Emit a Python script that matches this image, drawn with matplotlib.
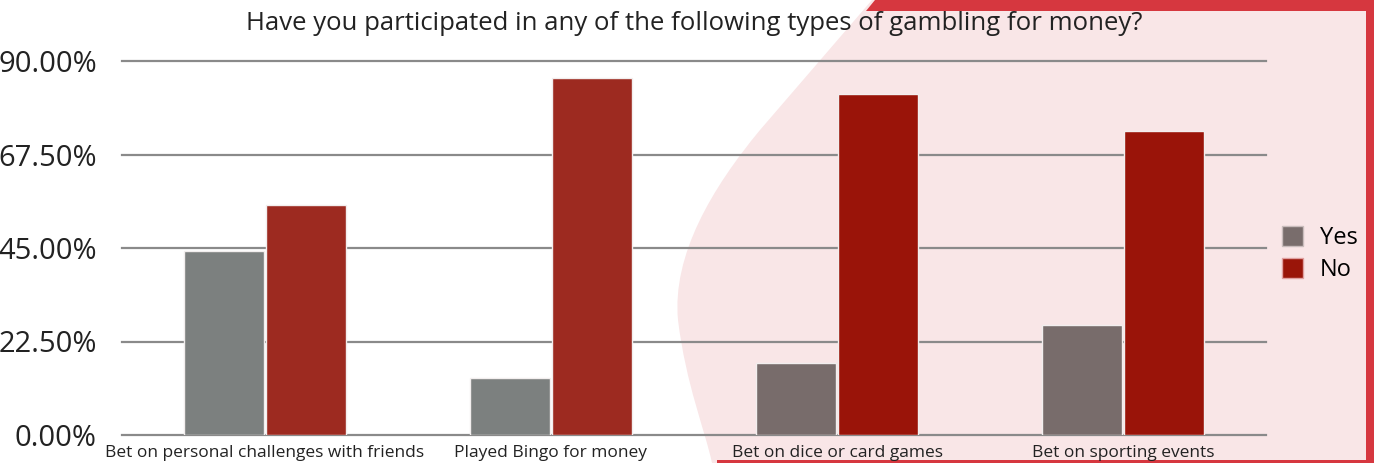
import matplotlib.pyplot as plt
import numpy as np
from matplotlib.patches import Polygon, Rectangle, PathPatch
from matplotlib.path import Path

categories = ['Bet on personal challenges with friends', 'Played Bingo for money',
              'Bet on dice or card games', 'Bet on sporting events']
yes_values = [44.3, 13.7, 17.3, 26.5]
no_values = [55.3, 85.9, 82.1, 73.1]
y_ticks = [0, 22.5, 45, 67.5, 90]

# colours differ where the bars sit on the pink panel
yes_colors = ['#7c807f', '#7c807f', '#786c6b', '#786c6b']
no_colors = ['#9d2a20', '#9d2a20', '#9a1409', '#9a1409']

W, H = 1374, 463
plt.rcParams['font.family'] = ['Open Sans', 'DejaVu Sans']

fig = plt.figure(figsize=(W / 100, H / 100), dpi=100)
fig.patch.set_facecolor('white')


def px(pts):
    return [(x / W, 1 - y / H) for x, y in pts]


# decorative pink panel with red frame
pink = '#f9e6e7'
red = '#d6373f'
verts = px([(872, 0), (760, 130), (712, 188), (672, 255), (678, 320),
            (686, 385), (705, 430), (712, 463), (1374, 463), (1374, 0), (872, 0)])
codes = [Path.MOVETO, Path.LINETO, Path.CURVE4, Path.CURVE4, Path.CURVE4,
         Path.CURVE4, Path.CURVE4, Path.CURVE4, Path.LINETO, Path.LINETO, Path.CLOSEPOLY]
fig.patches.append(PathPatch(Path(verts, codes), transform=fig.transFigure,
                             facecolor=pink, edgecolor='none', zorder=-2))
for band in ([(875, 0), (1374, 0), (1374, 11), (866, 11)],
             [(1366, 0), (1374, 0), (1374, 463), (1366, 463)],
             [(717, 460), (1374, 460), (1374, 463), (717, 463)]):
    fig.patches.append(Polygon(px(band), closed=True, transform=fig.transFigure,
                               facecolor=red, edgecolor='none', zorder=-1))

ax = fig.add_axes([122 / W, 28 / H, 1144 / W, 374 / H])
ax.set_facecolor('none')

x = np.arange(len(categories))
bw = 0.28
ax.bar(x - 0.143, yes_values, bw, color=yes_colors, edgecolor='#f2eeee', linewidth=1, zorder=3)
ax.bar(x + 0.143, no_values, bw, color=no_colors, edgecolor='#f2eeee', linewidth=1, zorder=3)

ax.set_xlim(-0.5, len(categories) - 0.5)
ax.set_ylim(0, 90)
ax.set_yticks(y_ticks)
ax.set_yticklabels(['%.2f%%' % v for v in y_ticks], fontsize=21, color='#222222')
ax.set_xticks(x)
ax.set_xticklabels(categories, fontsize=12.5, color='#222222')
ax.tick_params(axis='both', length=0)
ax.tick_params(axis='y', pad=18)
ax.tick_params(axis='x', pad=7)
ax.grid(axis='y', color='#8a8a8a', linewidth=1.6, zorder=0)
for gl in ax.get_ygridlines():
    gl.set_clip_on(False)
for s in ax.spines.values():
    s.set_visible(False)

fig.text(694 / W, 1 - 23 / H, 'Have you participated in any of the following types of gambling for money?',
         ha='center', va='center', fontsize=18.5, color='#222222')

handles = [Rectangle((0, 0), 1, 1, facecolor='#796d6c', edgecolor='#c9bcbc', linewidth=1),
           Rectangle((0, 0), 1, 1, facecolor='#9a1509', edgecolor='#e0a0a0', linewidth=1)]
fig.legend(handles, ['Yes', 'No'], loc='center left', bbox_to_anchor=(1270 / W, 1 - 254 / H),
           frameon=False, fontsize=17, handlelength=0.9, handleheight=0.9,
           handletextpad=0.7, labelspacing=0.35, borderpad=0)

fig.savefig('out.png', dpi=100)
